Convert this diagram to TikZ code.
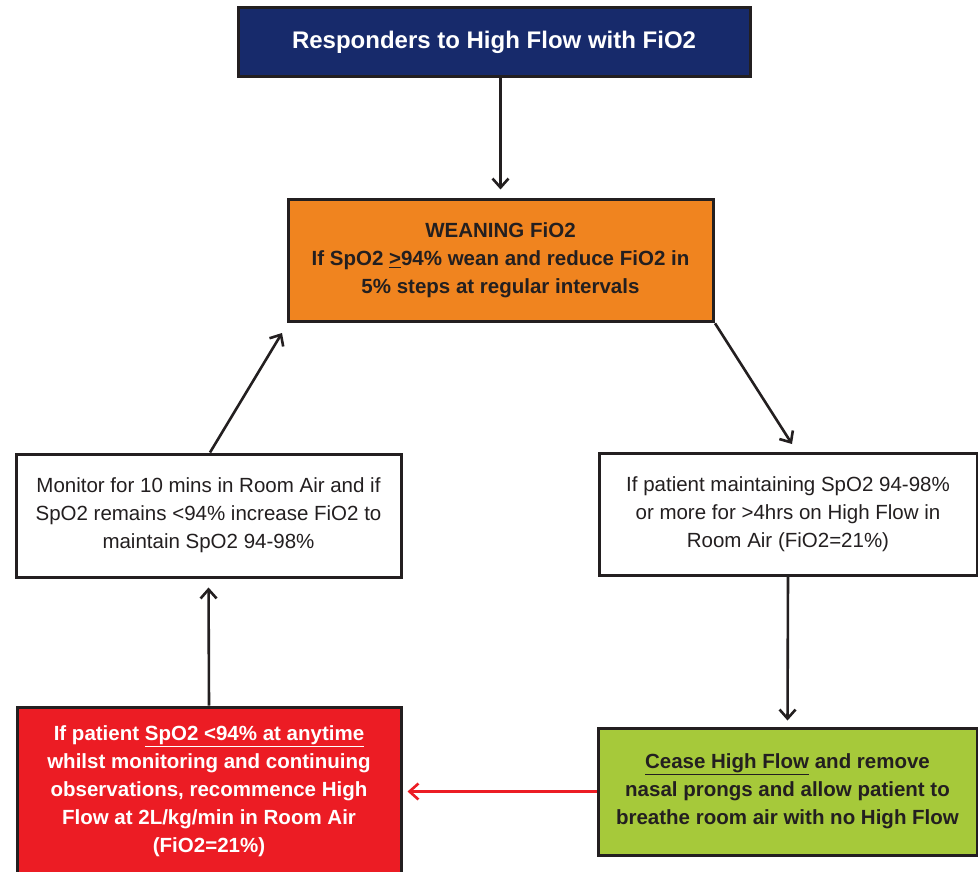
\documentclass[tikz,border=0pt]{standalone}
\usepackage{fontspec}
\setmainfont{Liberation Sans}
\usetikzlibrary{arrows.meta,calc}
\definecolor{navy}{HTML}{172A6B}
\definecolor{orng}{HTML}{F0841F}
\definecolor{rred}{HTML}{EC1C24}
\definecolor{grn}{HTML}{A6C93A}
\definecolor{edge}{HTML}{231F20}
\begin{document}
\begin{tikzpicture}[x=1pt,y=-1pt,
  box/.style={draw=edge,line width=3pt,rectangle,align=center,inner sep=0pt,
    font=\fontsize{20.5}{28}\selectfont},
  conn/.style={draw=edge,line width=2.6pt,-{Straight Barb[length=9pt,width=16pt,line width=2.6pt]}},
  rconn/.style={draw=rred,line width=2.6pt,-{Straight Barb[length=9pt,width=16pt,line width=2.6pt]}}]
\useasboundingbox (0,0) rectangle (978,872);
\node[box,fill=navy,text=white,minimum width=512,minimum height=69,font=\fontsize{24}{28}\selectfont\bfseries] (top) at (494,42.5) {Responders to High Flow with FiO2};
\node[box,fill=orng,text=edge,minimum width=425,minimum height=121,font=\fontsize{20.5}{28}\selectfont\bfseries] (orange) at (500.5,260.5)
  {WEANING FiO2\\If SpO2 \underline{>}94\% wean and reduce FiO2 in\\5\% steps at regular intervals};
\node[box,fill=white,text=edge,minimum width=385,minimum height=123] (left) at (208.5,515.5)
  {Monitor for 10 mins in Room Air and if\\SpO2 remains <94\% increase FiO2 to\\maintain SpO2 94-98\%};
\node[box,fill=white,text=edge,minimum width=378,minimum height=122] (right) at (788,514)
  {If patient maintaining SpO2 94-98\%\\or more for >4hrs on High Flow in\\Room Air (FiO2=21\%)};
\node[box,fill=rred,text=white,minimum width=384,minimum height=168,font=\fontsize{20.5}{28}\selectfont\bfseries] (red) at (209,791)
  {If patient \underline{SpO2 <94\% at anytime}\\whilst monitoring and continuing\\observations, recommence High\\Flow at 2L/kg/min in Room Air\\(FiO2=21\%)};
\node[box,fill=grn,text=edge,minimum width=379,minimum height=127,font=\fontsize{20.5}{28}\selectfont\bfseries] (green) at (787.5,791.5)
  {\underline{Cease High Flow} and remove\\nasal prongs and allow patient to\\breathe room air with no High Flow};
\coordinate (rtip) at (792,444);
\coordinate (ltip) at (282,333);
\draw[conn,shorten >=9pt] (top.south -| orange.north) -- (orange.north);
\draw[conn,shorten <=1pt] (orange.south east) -- (rtip);
\draw[conn,shorten >=6pt] (right.south) -- (green.north);
\draw[rconn,shorten >=5pt] (green.west) -- (green.west -| red.east);
\draw[conn,shorten >=9pt] (red.north) -- (left.south);
\draw[conn] ($(left.north)+(1.5,0)$) -- (ltip);
\end{tikzpicture}
\end{document}
